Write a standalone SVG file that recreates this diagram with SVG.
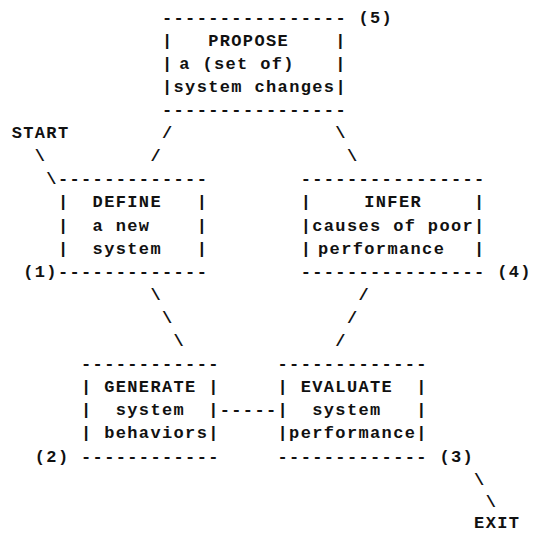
<svg xmlns="http://www.w3.org/2000/svg" width="539" height="534" viewBox="0 0 539 534" xml:space="preserve">
<style>
  text { font-family: "Liberation Mono", "DejaVu Sans Mono", monospace; font-size: 17px; font-weight: bold; letter-spacing: 1.36px; fill: #111; }
</style>
<rect width="539" height="534" fill="#fff"/>
<g id="node-propose">
  <text x="161.96" y="22.6">---------------- (5)</text>
  <text x="161.96" y="45.7">|</text><text x="208.2" y="45.7">PROPOSE</text><text x="335.36" y="45.7">|</text>
  <text x="161.96" y="68.8">|</text><text x="179.3" y="68.8">a (set of)</text><text x="335.36" y="68.8">|</text>
  <text x="161.96" y="91.9">|system changes|</text>
  <text x="161.96" y="115.0">----------------</text>
</g>
<g id="node-start">
  <text x="11.68" y="138.1">START</text>
</g>
<g id="node-define">
  <text x="57.92" y="184.3">-------------</text>
  <text x="57.92" y="207.4">|</text><text x="92.6" y="207.4">DEFINE</text><text x="196.64" y="207.4">|</text>
  <text x="57.92" y="230.5">|</text><text x="92.6" y="230.5">a new</text><text x="196.64" y="230.5">|</text>
  <text x="57.92" y="253.6">|</text><text x="92.6" y="253.6">system</text><text x="196.64" y="253.6">|</text>
  <text x="23.24" y="276.7">(1)-------------</text>
</g>
<g id="node-infer">
  <text x="300.68" y="184.3">----------------</text>
  <text x="300.68" y="207.4">|</text><text x="364.26" y="207.4">INFER</text><text x="474.08" y="207.4">|</text>
  <text x="300.68" y="230.5">|causes of poor|</text>
  <text x="300.68" y="253.6">|</text><text x="318.02" y="253.6">performance</text><text x="474.08" y="253.6">|</text>
  <text x="300.68" y="276.7">---------------- (4)</text>
</g>
<g id="node-generate">
  <text x="81.04" y="369.1">------------</text>
  <text x="81.04" y="392.2">|</text><text x="104.16" y="392.2">GENERATE</text><text x="208.2" y="392.2">|</text>
  <text x="81.04" y="415.3">|</text><text x="115.72" y="415.3">system</text><text x="208.2" y="415.3">|</text>
  <text x="81.04" y="438.4">|</text><text x="104.16" y="438.4">behaviors|</text>
  <text x="34.8" y="461.5">(2)</text><text x="81.04" y="461.5">------------</text>
</g>
<g id="node-evaluate">
  <text x="277.56" y="369.1">-------------</text>
  <text x="277.56" y="392.2">|</text><text x="300.68" y="392.2">EVALUATE</text><text x="416.28" y="392.2">|</text>
  <text x="277.56" y="415.3">|</text><text x="312.24" y="415.3">system</text><text x="416.28" y="415.3">|</text>
  <text x="277.56" y="438.4">|performance|</text>
  <text x="277.56" y="461.5">-------------</text><text x="439.4" y="461.5">(3)</text>
</g>
<g id="node-exit">
  <text x="474.08" y="528">EXIT</text>
</g>
<g id="connectors">
  <text x="161.96" y="138.1">/</text>
  <text x="150.4" y="161.2">/</text>
  <text x="335.36" y="138.1">\</text>
  <text x="346.92" y="161.2">\</text>
  <text x="34.8" y="161.2">\</text>
  <text x="46.36" y="184.3">\</text>
  <text x="150.4" y="299.8">\</text>
  <text x="161.96" y="322.9">\</text>
  <text x="173.52" y="346.0">\</text>
  <text x="358.48" y="299.8">/</text>
  <text x="346.92" y="322.9">/</text>
  <text x="335.36" y="346.0">/</text>
  <text x="219.76" y="415.3">-----</text>
  <text x="474.08" y="484.6">\</text>
  <text x="485.64" y="506.5">\</text>
</g>
</svg>
